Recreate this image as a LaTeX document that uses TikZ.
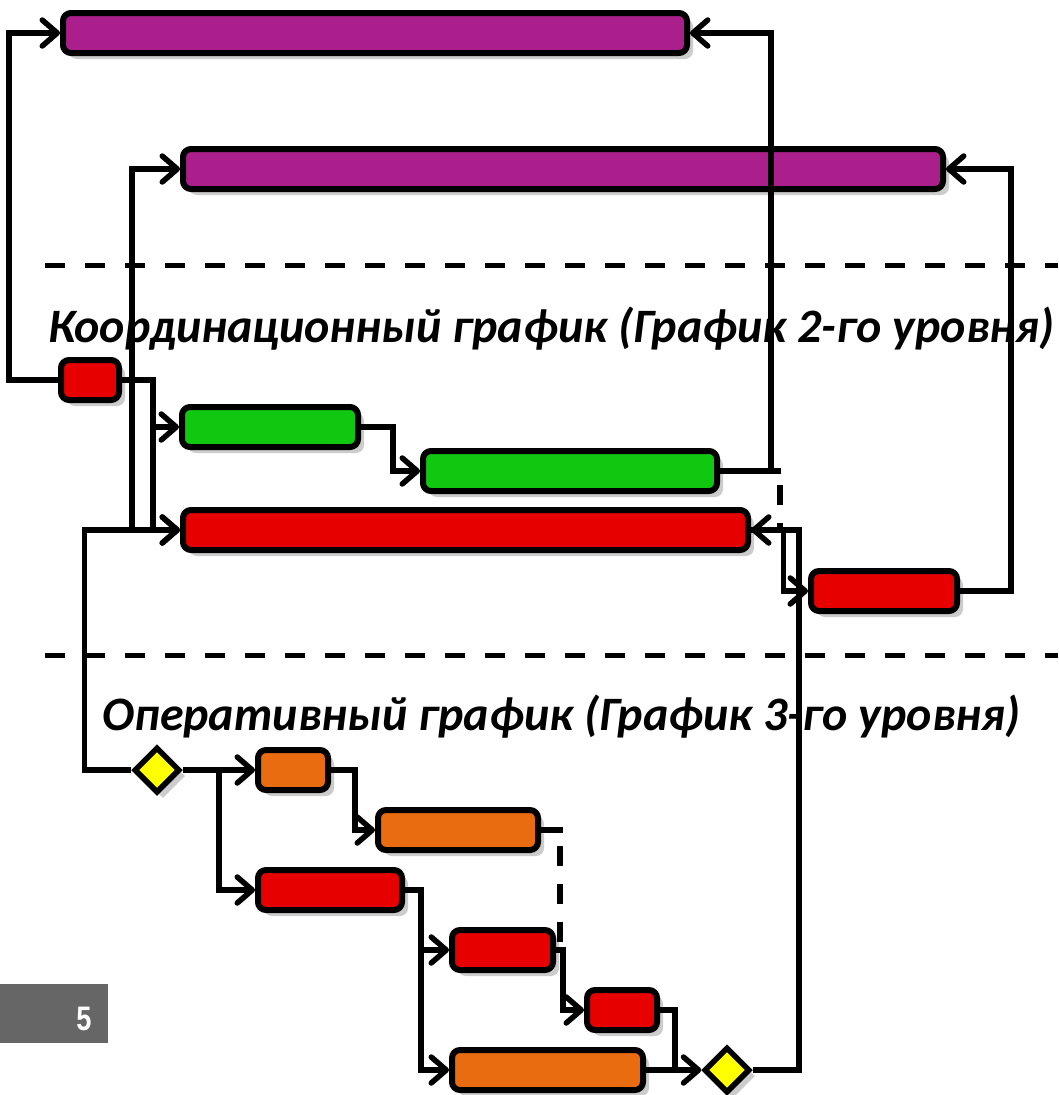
\documentclass[tikz,border=0pt]{standalone}
\usepackage{fontspec}
\setmainfont{Carlito}
\newfontfamily\numfont[FakeStretch=0.8]{Liberation Sans}
\usetikzlibrary{arrows.meta,shapes.geometric,shadows}
\definecolor{cpurple}{HTML}{AB1F8D}
\definecolor{cgreen}{HTML}{11C811}
\definecolor{cred}{HTML}{E60000}
\definecolor{corange}{HTML}{E96C11}
\definecolor{cyellow}{HTML}{FFFF00}
\definecolor{cshadow}{HTML}{CCCCCC}
\definecolor{cpage}{HTML}{666666}
\begin{document}
\begin{tikzpicture}[x=1pt,y=-1pt,
  shad/.style={drop shadow={shadow xshift=6pt,shadow yshift=-6pt,fill=cshadow,opacity=1}},
  bar/.style={draw=black,line width=6pt,rounded corners=8pt,inner sep=0pt,fill=#1,shad,minimum height=40pt},
  gate/.style={diamond,draw=black,line width=5.5pt,inner sep=0pt,minimum size=46pt,fill=cyellow,shad},
  conn/.style={line width=5.5pt},
  arr/.style={conn,-{Straight Barb[length=15pt,width=26pt,round]}},
  sepline/.style={line width=5pt,dash pattern=on 20pt off 20pt},
  dline/.style={conn,dash pattern=on 20pt off 18pt},
  lbl/.style={font=\bfseries\itshape\fontsize{48}{58}\selectfont,inner sep=0pt,anchor=base}
]
\useasboundingbox (0,0) rectangle (1058,1095);
\fill[white] (0,0) rectangle (1058,1095);

% separators
\draw[sepline] (45,265) -- (1058,265);
\draw[sepline] (45,655) -- (1058,655);

% bars
\node[bar=cpurple,minimum width=624pt] (P1) at (375,33) {};
\node[bar=cpurple,minimum width=760pt] (P2) at (563,169) {};
\node[bar=cred,minimum width=58pt] (R0) at (90,380) {};
\node[bar=cgreen,minimum width=176pt] (G1) at (270,427) {};
\node[bar=cgreen,minimum width=294pt] (G2) at (570,471) {};
\node[bar=cred,minimum width=565pt] (RL) at (465.5,530) {};
\node[bar=cred,minimum width=146pt] (RR) at (884,591) {};
\node[bar=corange,minimum width=70pt] (O1) at (293,770) {};
\node[bar=corange,minimum width=160pt] (O2) at (458,830) {};
\node[bar=cred,minimum width=144pt] (R2) at (330,890) {};
\node[bar=cred,minimum width=101pt] (R3) at (502.5,950) {};
\node[bar=cred,minimum width=70pt] (R4) at (622,1010) {};
\node[bar=corange,minimum width=191pt] (O3) at (547.5,1070) {};
\node[gate] (D1) at (157,770) {};
\node[gate] (D2) at (727,1070) {};

% labels
\node[lbl] (t1) at (551.5,342) {Координационный график (График 2-го уровня)};
\node[lbl] (t2) at (561.5,730) {Оперативный график (График 3-го уровня)};

% page number
\node[fill=cpage,minimum width=108pt,minimum height=59pt,inner sep=0pt,anchor=north west] (pg) at (0,984) {};
\node[text=white,font=\numfont\bfseries\fontsize{34}{40}\selectfont,inner sep=0pt,anchor=base] (pn) at (84,1030) {5};

% connectors
\draw[arr] (R0.west) -- ++(-49,0) |- (P1.west);
\draw[arr] (R0.east) -- ++(31,0) |- (G1.west);
\draw[arr] (R0.east) -- ++(31,0) |- (RL.west);
\draw[arr] (D1.west) -- ++(-47,0) |- (RL.west);
\coordinate (jA) at (132,530);
\draw[arr] (jA) |- (P2.west);
\draw[arr] (G1.east) -- ++(32,0) |- (G2.west);
\draw[conn] (G2.east) -- ++(61,0);
\draw[arr] (G2.east) -- ++(51,0) |- (P1.east);
\coordinate (jG) at (780,471);
\coordinate (jR) at (780,530);
\draw[dline,dash phase=24pt] (jG) -- (jR);
\draw[arr] (RL.east) -- ++(32.5,0) |- (RR.west);
\draw[arr] (RR.east) -- ++(51,0) |- (P2.east);
\draw[arr] (D2.east) -- ++(46,0) |- (RL.east);
\draw[arr] (D1.east) -- (O1.west);
\draw[arr] (D1.east) -- ++(36,0) |- (R2.west);
\draw[arr] (O1.east) -- ++(24,0) |- (O2.west);
\draw[conn] (O2.east) -- ++(22,0);
\coordinate (jO) at (560,830);
\coordinate (jT) at (560,950);
\draw[dline,dash phase=22pt] (jO) -- (jT);
\draw[arr] (R3.east) -- ++(7,0) |- (R4.west);
\draw[conn] (R4.east) -- ++(15,0) -- ++(0,60);
\draw[arr] (O3.east) -- (D2.west);
\draw[arr] (R2.east) -- ++(16,0) |- (R3.west);
\draw[arr] (R2.east) -- ++(16,0) |- (O3.west);
\end{tikzpicture}
\end{document}
